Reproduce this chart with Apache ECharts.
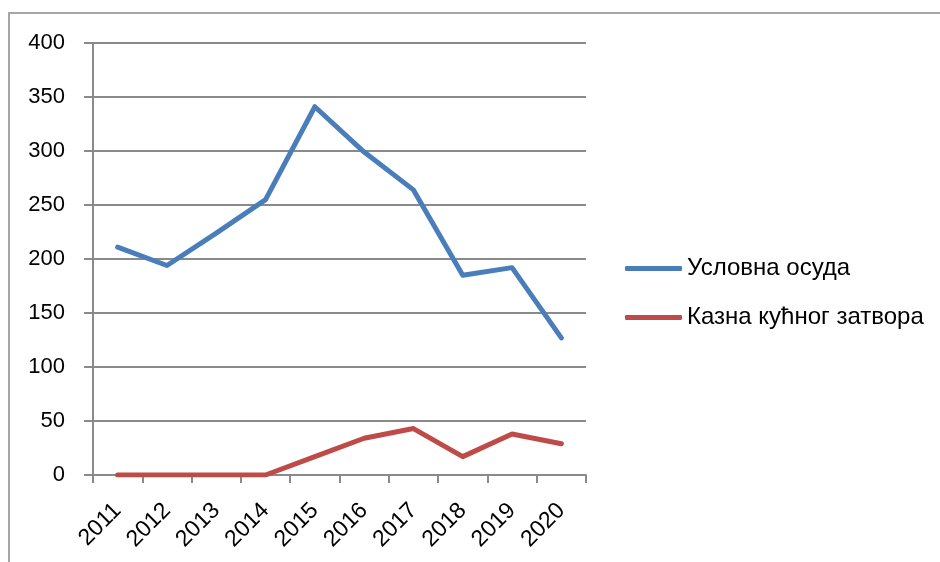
<!DOCTYPE html>
<html>
<head>
<meta charset="utf-8">
<script src="https://cdn.jsdelivr.net/npm/echarts@6/dist/echarts.min.js"></script>
<style>
  html, body { margin: 0; padding: 0; background: #fff; }
  #chart { width: 940px; height: 562px; }
</style>
</head>
<body>
<div id="chart"></div>
<script>
// Years on the category axis
const years = ['2011', '2012', '2013', '2014', '2015', '2016', '2017', '2018', '2019', '2020'];

// Number of sentences per year
const uslovnaOsuda = [211, 194, 224, 255, 341, 299, 264, 185, 192, 127];
const kucniZatvor = [0, 0, 0, 0, 17, 34, 43, 17, 38, 29];

// Series names
const seriesNames = ['Условна осуда', 'Казна кућног затвора'];

const FONT = '"Liberation Sans", Arial, sans-serif';
const GRID_GREY = '#8a8a8a';

const chart = echarts.init(document.getElementById('chart'), null, { renderer: 'canvas' });

chart.setOption({
  animation: false,
  backgroundColor: '#ffffff',
  graphic: [{
    type: 'rect',
    shape: { x: 9, y: 13, width: 1000, height: 600 },
    style: { fill: 'none', stroke: '#a6a6a6', lineWidth: 2 },
    silent: true
  }],
  grid: { left: 93, right: 354, top: 43, bottom: 87, containLabel: false },
  legend: {
    orient: 'vertical',
    left: 625,
    top: 256,
    padding: 0,
    itemWidth: 57,
    itemHeight: 5,
    itemGap: 24,
    icon: 'roundRect',
    textStyle: { fontFamily: FONT, fontSize: 24, color: '#000', lineHeight: 25 },
    data: seriesNames
  },
  xAxis: {
    type: 'category',
    data: years,
    boundaryGap: true,
    axisLine: { show: true, lineStyle: { color: GRID_GREY, width: 2 } },
    axisTick: { show: true, alignWithLabel: false, length: 8, lineStyle: { color: GRID_GREY, width: 2 } },
    axisLabel: {
      rotate: 45,
      margin: 32,
      fontFamily: FONT,
      fontSize: 23,
      color: '#000',
      interval: 0
    },
    splitLine: { show: false }
  },
  yAxis: {
    type: 'value',
    min: 0,
    max: 400,
    interval: 50,
    axisLine: { show: true, lineStyle: { color: GRID_GREY, width: 2 } },
    axisTick: { show: true, length: 9, lineStyle: { color: GRID_GREY, width: 2 } },
    axisLabel: { margin: 28, fontFamily: FONT, fontSize: 22, color: '#000' },
    splitLine: { show: true, lineStyle: { color: GRID_GREY, width: 2 } }
  },
  series: [
    {
      name: seriesNames[0],
      type: 'line',
      data: uslovnaOsuda,
      showSymbol: false,
      symbol: 'none',
      lineStyle: { color: '#4a7ebb', width: 5, join: 'round', cap: 'round' },
      itemStyle: { color: '#4a7ebb' }
    },
    {
      name: seriesNames[1],
      type: 'line',
      data: kucniZatvor,
      showSymbol: false,
      symbol: 'none',
      lineStyle: { color: '#be4b48', width: 5, join: 'round', cap: 'round' },
      itemStyle: { color: '#be4b48' }
    }
  ]
});
</script>
</body>
</html>
